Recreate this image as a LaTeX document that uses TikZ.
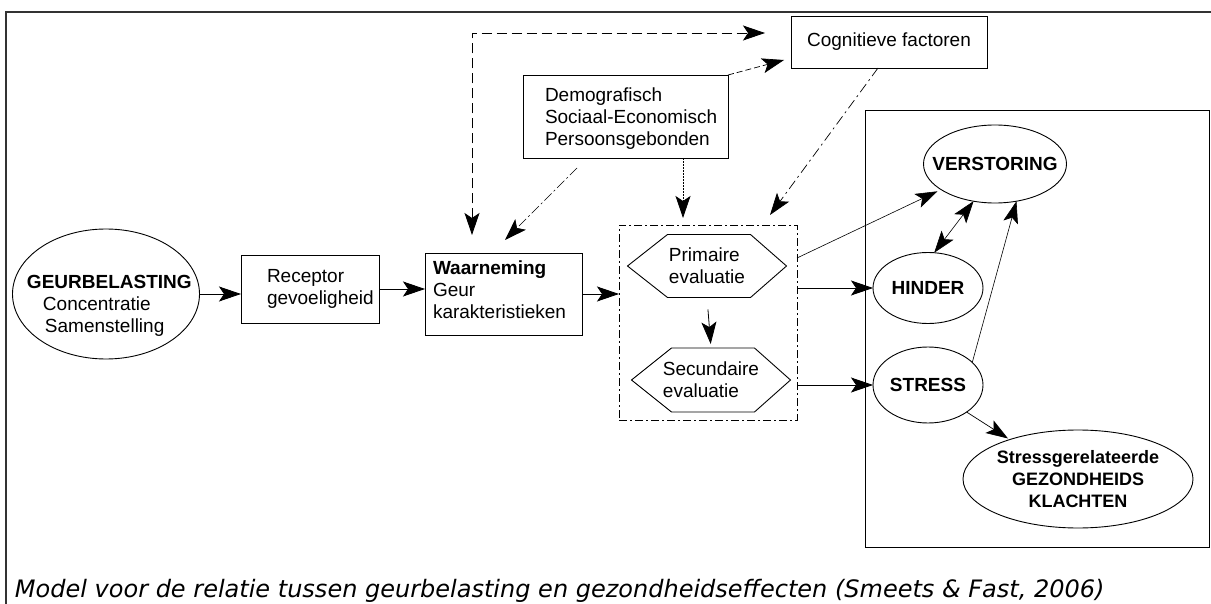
\documentclass[tikz,border=0pt]{standalone}
\usepackage{fontspec}
\setmainfont{Liberation Sans}
\newfontfamily\capfont{DejaVu Sans}
\usetikzlibrary{arrows.meta,calc,shapes.geometric}
\begin{document}
\begin{tikzpicture}[x=1pt,y=-1pt,
  every node/.style={font=\fontsize{19}{22}\selectfont, inner sep=0pt, outer sep=0pt},
  box/.style={draw, line width=0.9pt, rectangle},
  oval/.style={draw, line width=0.9pt, ellipse},
  boldlbl/.style={font=\fontsize{19}{22}\selectfont\bfseries, align=center},
  arr/.style={-{Stealth[length=22pt,width=15pt,inset=5pt]}, line width=0.8pt},
  dblarr/.style={{Stealth[length=22pt,width=15pt,inset=5pt]}-{Stealth[length=22pt,width=15pt,inset=5pt]}, line width=0.8pt},
  hexline/.style={line width=0.9pt}
]
\useasboundingbox (0,0) rectangle (1211,604);
% outer frame
\draw[line width=1.4pt, draw=black!80] (6,604) -- (6,12) -- (1211,12);

% left chain
\node[oval, minimum width=187pt, minimum height=130pt] (geur) at (106,294) {};
\node[anchor=west, align=left] (geurtxt) at (27,306) {\textbf{GEURBELASTING}\\\hspace*{16pt}Concentratie\\\hspace*{18pt}Samenstelling};

\node[box, minimum width=138pt, minimum height=68pt] (receptor) at (310,289) {};
\node[anchor=west, align=left] (receptortxt) at (267,289) {Receptor\\gevoeligheid};

\node[box, minimum width=157pt, minimum height=82pt] (waarneming) at (503.5,294) {};
\node[anchor=west, align=left] (waarnemingtxt) at (433,290) {\textbf{Waarneming}\\Geur\\karakteristieken};

% top boxes
\node[box, minimum width=205pt, minimum height=83pt] (demo) at (625.5,116.5) {};
\node[anchor=west, align=left] (demotxt) at (545,118.5) {Demografisch\\Sociaal-Economisch\\Persoonsgebonden};

\node[box, minimum width=196pt, minimum height=52pt] (cognitieve) at (889,42) {Cognitieve factoren};

% evaluation container
\node[draw, line width=0.8pt, dash pattern=on 8pt off 3pt on 2pt off 3pt, minimum width=178pt, minimum height=195pt] (container) at (708,322.5) {};

\node[minimum width=159pt, minimum height=63pt, align=left] (prim) at (707,266) {Primaire\\evaluatie};
\draw[hexline] (prim.west) -- ($(prim.north west)+(40,0)$) -- ($(prim.north east)+(-36,0)$) -- (prim.east) -- ($(prim.south east)+(-36,0)$) -- ($(prim.south west)+(40,0)$) -- cycle;

\node[minimum width=159pt, minimum height=64pt, align=left] (sec) at (711,380) {Secundaire\\evaluatie};
\draw[hexline] (sec.west) -- ($(sec.north west)+(40,0)$) -- ($(sec.north east)+(-36,0)$) -- (sec.east) -- ($(sec.south east)+(-36,0)$) -- ($(sec.south west)+(40,0)$) -- cycle;

% right box and outcomes
\node[box, minimum width=344pt, minimum height=437pt] (rightbox) at (1037,328.5) {};
\node[oval, minimum width=143pt, minimum height=78pt, label={[boldlbl]center:VERSTORING}] (verstoring) at (995,164) {};
\node[oval, minimum width=110pt, minimum height=71pt, label={[boldlbl]center:HINDER}] (hinder) at (928,288) {};
\node[oval, minimum width=110pt, minimum height=76pt, label={[boldlbl]center:STRESS}] (stress) at (928,385) {};
\node[oval, minimum width=230pt, minimum height=98pt, label={[boldlbl, font=\fontsize{18}{22}\selectfont\bfseries]center:Stressgerelateerde\\GEZONDHEIDS\\KLACHTEN}] (klachten) at (1078,479) {};

% main flow
\draw[arr] (geur.east) -- (receptor.west |- geur.east);
\draw[arr] (receptor.east) -- (waarneming.west |- receptor.east);
\draw[arr] (waarneming.east) -- (container.west |- waarneming.east);
\draw[arr, shorten <=12pt, shorten >=4pt] (prim.south) -- (sec.north);
\coordinate (cv) at (797,258);
\draw[arr, line width=0.6pt, shorten >=4pt] (container.east |- cv) -- (verstoring);
\draw[arr] (container.east |- hinder) -- (hinder.west);
\draw[arr] (container.east |- stress) -- (stress.west);
\draw[dblarr, line width=0.6pt] (hinder.80) -- (verstoring.240);
\draw[arr, line width=0.6pt] (stress.27) -- (verstoring.300);
\draw[arr, line width=0.7pt, shorten >=2pt] (stress.-35) -- (klachten.150);

% influences
\coordinate (lc) at (472,33);
\draw[dblarr, dash pattern=on 10pt off 5pt, shorten <=18pt, shorten >=26pt] (waarneming.north -| lc) |- (cognitieve.west |- lc);
\draw[arr, line width=0.7pt, dash pattern=on 6pt off 3pt] (demo.north east) -- ($(cognitieve.south west)+(-7,-8)$);
\draw[arr, line width=0.7pt, dash pattern=on 10pt off 3pt on 2pt off 3pt] ($(demo.south west)+(54,10)$) -- ($(waarneming.north west)+(80,-13)$);
\coordinate (dc) at (683,158);
\draw[arr, line width=0.7pt, dash pattern=on 2pt off 1pt, shorten >=7pt] (dc) -- (dc |- container.north);
\draw[arr, line width=0.7pt, dash pattern=on 10pt off 4pt on 2pt off 4pt] ($(cognitieve.south)+(-11,0)$) -- ($(container.north east)+(-27,-10)$);

% caption
\node[anchor=base west, font=\capfont\itshape\fontsize{24}{28}\selectfont] (caption) at (15,597) {Model voor de relatie tussen geurbelasting en gezondheidseffecten (Smeets \& Fast, 2006)};
\end{tikzpicture}
\end{document}
